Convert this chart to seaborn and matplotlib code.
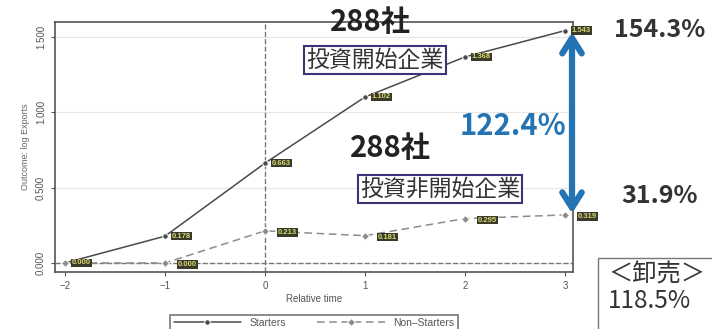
import matplotlib
matplotlib.use('Agg')
import matplotlib.pyplot as plt
import matplotlib.patches as mpatches
import seaborn as sns
import pandas as pd

# data
rel_time = [-2, -1, 0, 1, 2, 3]
starters = [0.000, 0.178, 0.663, 1.102, 1.368, 1.543]
non_starters = [0.000, 0.000, 0.213, 0.181, 0.295, 0.319]
starter_labels = ['0.000', '0.178', '0.663', '1.102', '1.368', '1.543']
non_starter_labels = ['', '0.000', '0.213', '0.181', '0.295', '0.319']
y_ticks = [0.0, 0.5, 1.0, 1.5]
y_ticklabels = ['0.000', '0.500', '1.000', '1.500']

df = pd.DataFrame({'Relative time': rel_time * 2,
                   'value': starters + non_starters,
                   'group': ['Starters'] * 6 + ['Non-Starters'] * 6})

sns.set_style('white')
plt.rcParams['font.family'] = ['Liberation Sans', 'DejaVu Sans']
jp = ['Noto Sans CJK JP', 'DejaVu Sans']

fig = plt.figure(figsize=(7.12, 3.29), dpi=100)
ax = fig.add_axes([55/712, 1 - 272/329, 518/712, 250/329])

ax.axvline(0, color='#777777', ls='--', lw=1, zorder=1)
ax.axhline(0, color='#777777', ls='--', lw=1, zorder=1)
for t in y_ticks:
    ax.axhline(t, color='#e6e6e6', lw=0.8, zorder=0)

sns.lineplot(data=df, x='Relative time', y='value', hue='group', style='group',
             palette={'Starters': '#4a4a4a', 'Non-Starters': '#8c8c8c'},
             dashes={'Starters': '', 'Non-Starters': (5, 3)},
             markers={'Starters': 'o', 'Non-Starters': 'D'},
             markersize=4, lw=1.1, ax=ax, legend=True, zorder=3)

# value labels
for x, y, s in zip(rel_time, starters, starter_labels):
    ax.text(x + 0.07, y, s, fontsize=5.5, fontweight='bold', color='#d8d870', va='center',
            bbox=dict(boxstyle='square,pad=0.1', fc='#3a3a2a', ec='none'), zorder=4)
for x, y, s in zip(rel_time, non_starters, non_starter_labels):
    if s:
        ax.text(x + 0.13, y - 0.01, s, fontsize=5.5, fontweight='bold', color='#d8d870', va='center',
                bbox=dict(boxstyle='square,pad=0.1', fc='#3a3a2a', ec='none'), zorder=4)

ax.set_xlim(-2.1, 3.08)
ax.set_ylim(-0.06, 1.6)
ax.set_xticks(rel_time)
ax.set_xticklabels(['\u22122', '\u22121', '0', '1', '2', '3'])
ax.set_yticks(y_ticks)
ax.set_yticklabels(y_ticklabels, rotation=90, va='center')
ax.tick_params(axis='both', labelsize=7, colors='#555555', length=3, width=0.8,
               direction='out', left=True, bottom=True)
for sp in ax.spines.values():
    sp.set_color('#555555')
    sp.set_linewidth(1.2)
ax.set_xlabel('Relative time', fontsize=7, color='#555555', labelpad=2)
ax.set_ylabel('Outcome: log Exports', fontsize=6.5, color='#666666', labelpad=4)

h, l = ax.get_legend_handles_labels()
leg = ax.legend(h, ['Starters', 'Non\u2013Starters'], loc='upper center',
                bbox_to_anchor=(0.5, -0.15), ncol=2, fontsize=7.5, frameon=True,
                fancybox=False, edgecolor='#555555', handlelength=6.5, columnspacing=3,
                borderpad=0.3)
leg.get_frame().set_linewidth(1.2)
for t in leg.get_texts():
    t.set_color('#555555')

# blue double arrow
ax.annotate('', xy=(3.07, 1.55), xytext=(3.07, 0.31),
            arrowprops=dict(arrowstyle='<->,head_length=1.1,head_width=0.7',
                            color='#2474b4', lw=4.5), zorder=5)

def ftext(x, y, s, **kw):
    fig.text(x / 712, 1 - y / 329, s, ha='center', va='center', family=jp, **kw)

ftext(370, 22, '288社', fontsize=21, fontweight='bold', color='#222222')
ftext(390, 148, '288社', fontsize=21, fontweight='bold', color='#222222')
ftext(375, 60, '投資開始企業', fontsize=16.5, color='#333333',
      bbox=dict(boxstyle='square,pad=0.1', fc='white', ec='#3b3478', lw=1.5))
ftext(440, 189, '投資非開始企業', fontsize=16.5, color='#333333',
      bbox=dict(boxstyle='square,pad=0.1', fc='white', ec='#3b3478', lw=1.5))
ftext(513, 126, '122.4%', fontsize=21, fontweight='bold', color='#2474b4')
ftext(660, 30, '154.3%', fontsize=18, fontweight='bold', color='#333333')
ftext(660, 196, '31.9%', fontsize=18, fontweight='bold', color='#333333')

# note box at the lower right, running off the edges
fig.patches.append(mpatches.Rectangle((598 / 712, -0.05), 0.2, 1 - 258 / 329 + 0.05,
                                      transform=fig.transFigure, fc='white',
                                      ec='#777777', lw=1))
fig.text(608 / 712, 1 - 262 / 329, '＜卸売＞\n118.5%', ha='left', va='top',
         family=jp, fontsize=17.5, color='#333333', linespacing=1.0)

fig.savefig('out.png', dpi=100)
